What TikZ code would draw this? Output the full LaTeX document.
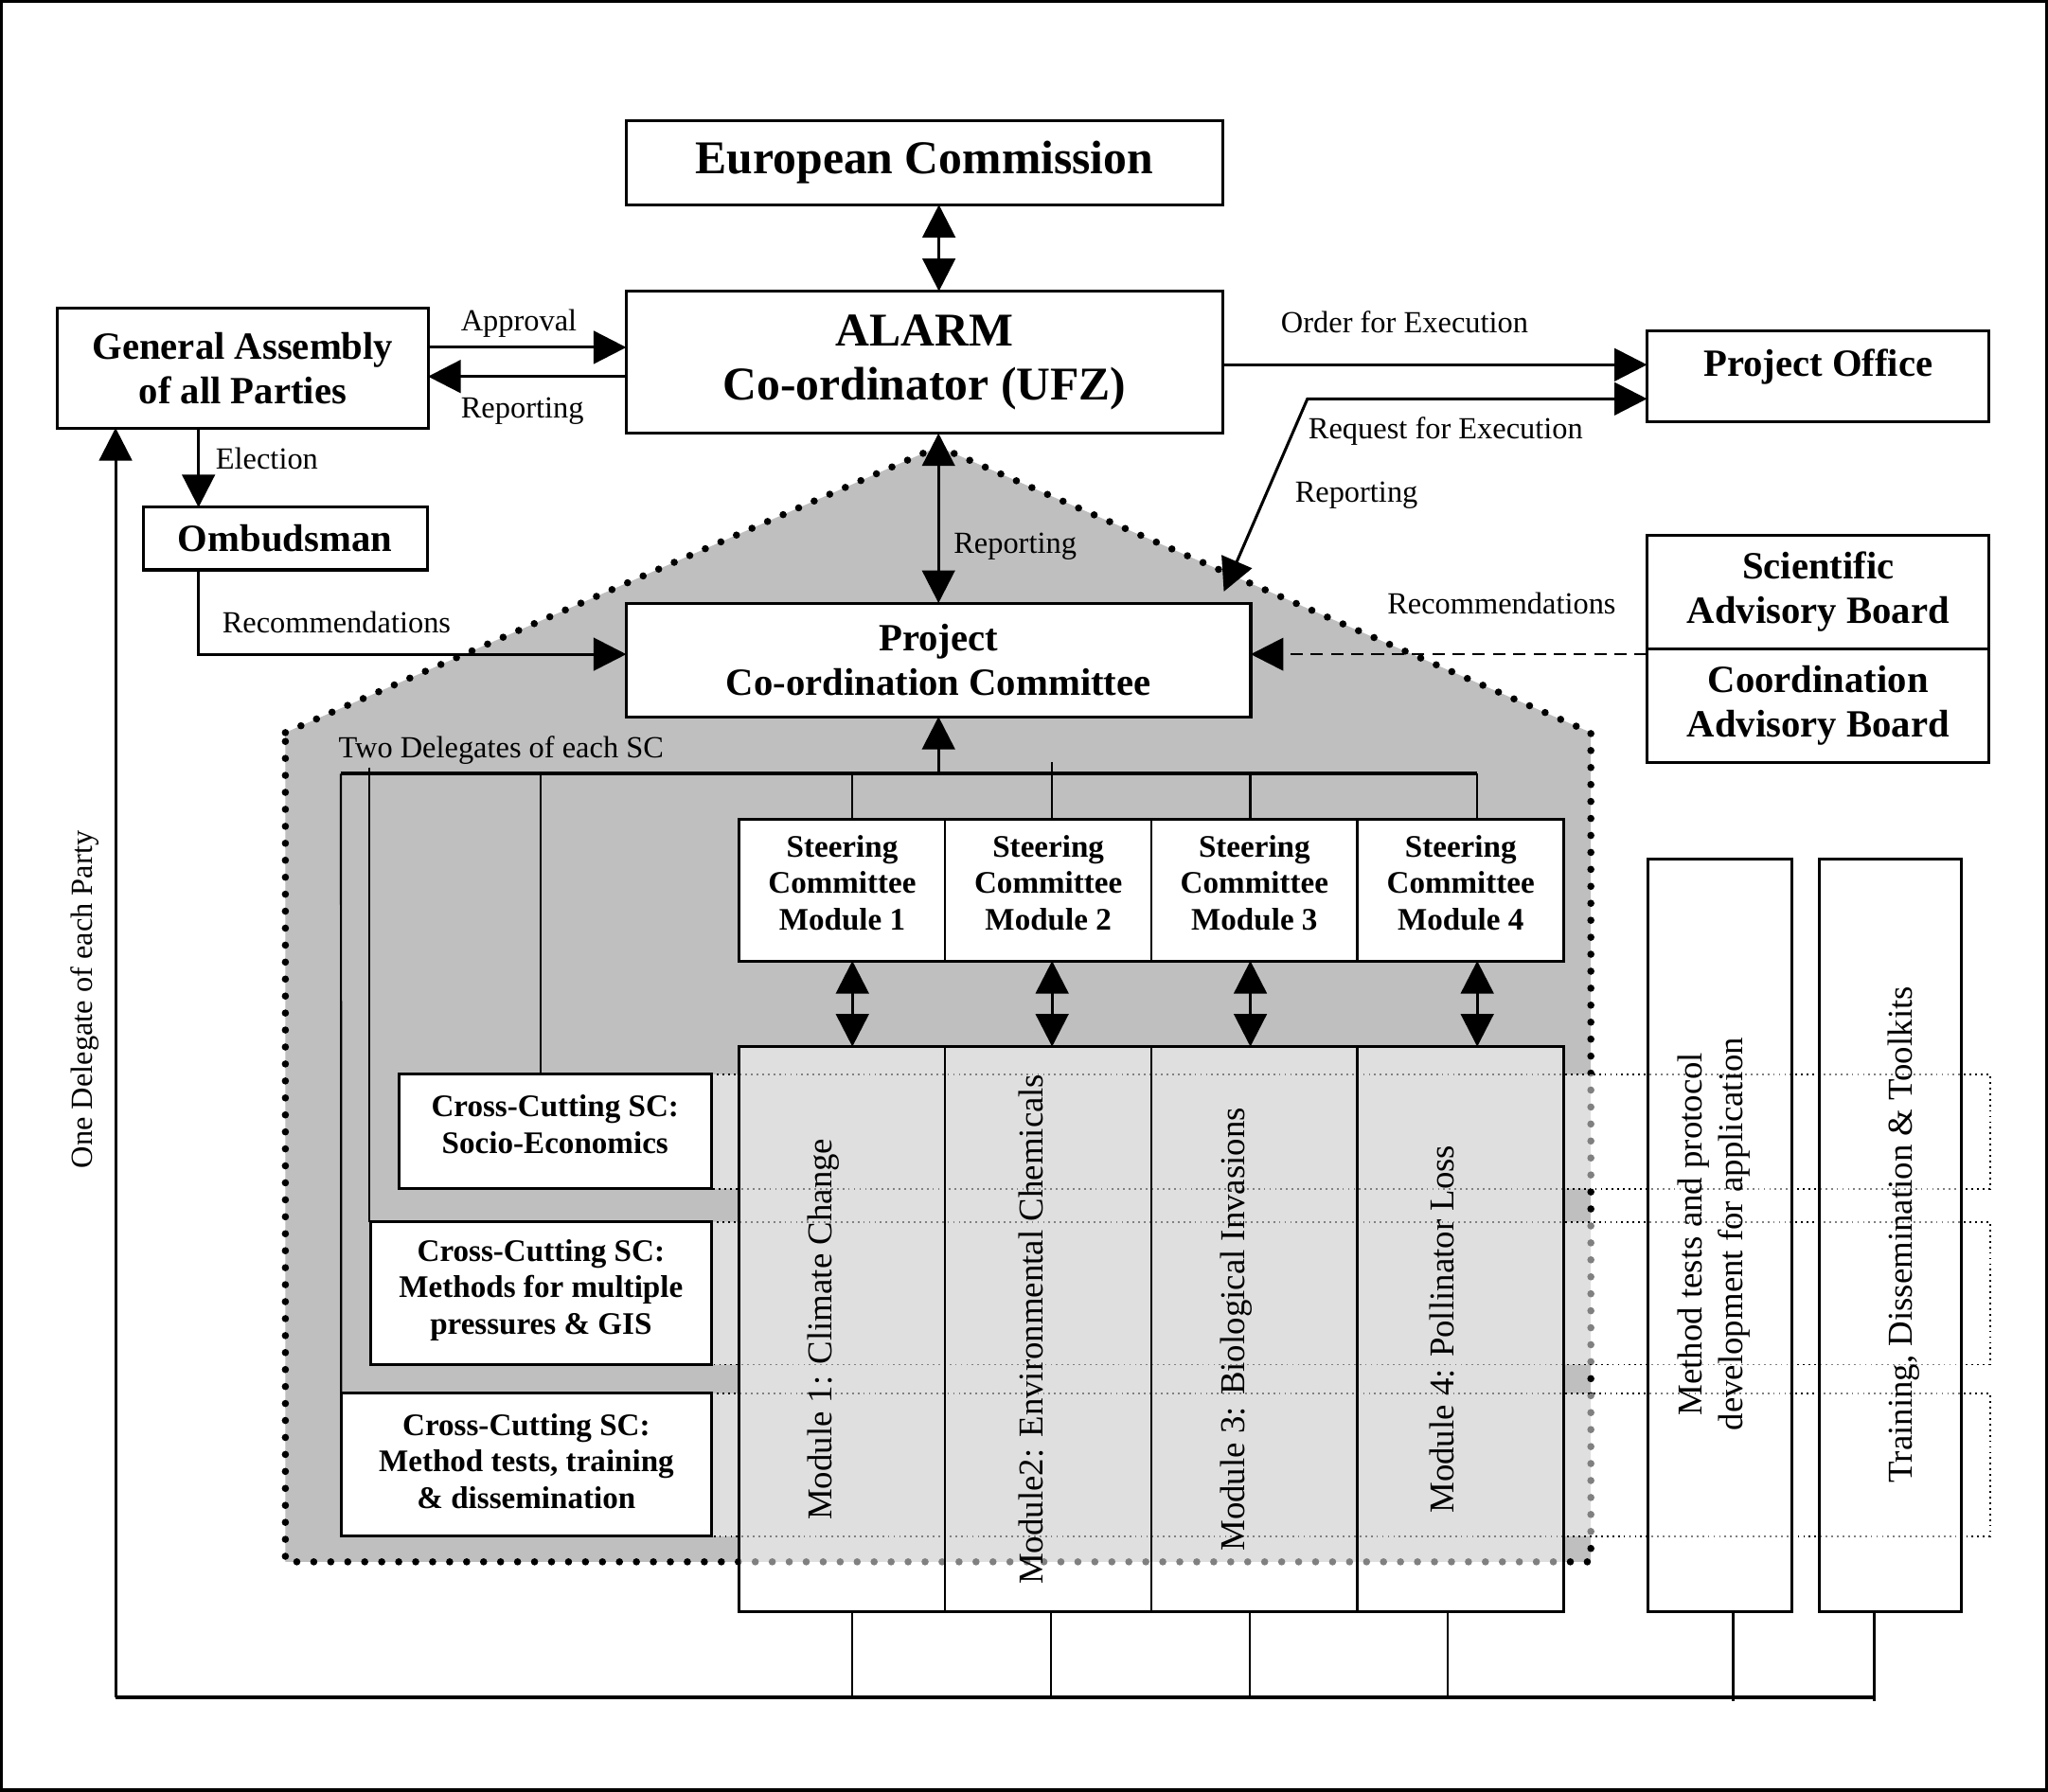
\documentclass[tikz,border=0pt]{standalone}
\usepackage{fontspec}
\setmainfont{Liberation Serif}
\usetikzlibrary{arrows.meta}
\newcommand\fEC{\fontsize{36}{42}\selectfont\bfseries}
\newcommand\fAL{\fontsize{36}{41}\selectfont\bfseries}
\newcommand\fBB{\fontsize{29.5}{34}\selectfont\bfseries}
\newcommand\fMB{\fontsize{24}{27.7}\selectfont\bfseries}
\newcommand\fLB{\fontsize{23.5}{27}\selectfont}
\newcommand\fRT{\fontsize{26.7}{31}\selectfont}
\definecolor{pent}{gray}{0.75}
\begin{document}
\begin{tikzpicture}[x=1pt,y=-1pt,
  box/.style={draw, line width=2.2pt, fill=white, inner sep=0pt, outer sep=0pt, align=center},
  cell/.style={draw, line width=1.6pt, inner sep=0pt, outer sep=0pt},
  conn/.style={line width=2.2pt},
  thinln/.style={line width=1.6pt},
  busln/.style={line width=2.8pt},
  arrhead/.style={-{Triangle[length=25pt,width=25pt]}},
  dblhead/.style={{Triangle[length=25pt,width=25pt]}-{Triangle[length=25pt,width=25pt]}},
  lbl/.style={font=\fLB, inner sep=0pt, anchor=base west},
  rowdot/.style={line width=1.3pt, dash pattern=on 1.3pt off 3pt},
  pentdot/.style={line width=5.5pt, dash pattern=on 0pt off 13pt, line cap=round},
  txt/.style={inner sep=0pt, align=center},
]
\useasboundingbox (0,0) rectangle (1568,1372);
\draw[line width=2.4pt] (1.2,1.2) rectangle (1566.8,1370.8);

% grey pentagon
\draw[pentdot, fill=pent] (218.5,561) -- (718.5,342) -- (1218,561) -- (1218,1196) -- (218.5,1196) -- cycle;
% lighter bands beside the modules
\fill[white, fill opacity=0.5] (544.8,822.6) rectangle (566,910.3) (1197.5,822.6) rectangle (1221.5,910.3)
  (544.8,935.6) rectangle (566,1045) (1197.5,935.6) rectangle (1221.5,1045)
  (544.8,1067) rectangle (566,1176.5) (1197.5,1067) rectangle (1221.5,1176.5);

% boxes
\node[box, font=\fEC, minimum width=456.7pt, minimum height=64.2pt] (ec) at (707.85,124.7) {European Commission};
\node[box, font=\fAL, minimum width=456.7pt, minimum height=108.8pt] (alarm) at (707.85,277.4) {ALARM\\Co-ordinator (UFZ)};
\node[box, font=\fBB, minimum width=283.7pt, minimum height=91.9pt] (ga) at (185.85,281.75) {General Assembly\\of all Parties};
\node[box, font=\fBB, minimum width=217.5pt, minimum height=47.9pt] (omb) at (218.25,412.45) {Ombudsman};
\node[box, minimum width=262pt, minimum height=69.6pt] (po) at (1392,288) {};
\node[font=\fBB, inner sep=0pt, anchor=base] (pot) at (1392,287.8) {Project Office};
\node[box, font=\fBB, minimum width=262pt, minimum height=87pt] (sab) at (1392,453.3) {Scientific\\Advisory Board};
\node[box, font=\fBB, minimum width=262pt, minimum height=87pt] (cab) at (1392,540.3) {Coordination\\Advisory Board};
\node[box, font=\fBB, minimum width=478.1pt, minimum height=87pt] (pcc) at (718.55,505.3) {Project\\Co-ordination Committee};

% cross-cutting boxes
\node[box, minimum width=239.5pt, minimum height=87.7pt] (cc1) at (425.05,866.45) {};
\node[box, minimum width=261.2pt, minimum height=109.4pt] (cc2) at (414.2,990.3) {};
\node[box, minimum width=283.6pt, minimum height=109.5pt] (cc3) at (403,1121.75) {};

% row bands (dotted)
\coordinate (rowR) at (1523.5,0);
\foreach \c in {cc1,cc2,cc3}{
  \draw[rowdot] (\c.north east) -- (\c.north east -| rowR) -- (\c.south east -| rowR) -- (\c.south east);
}

% steering committee cells
\node[cell, fill=white, minimum width=157.6pt, minimum height=108.3pt] (sc1) at (644.8,681.65) {};
\node[cell, fill=white, minimum width=158pt, minimum height=108.3pt] (sc2) at (802.6,681.65) {};
\node[cell, fill=white, minimum width=157.6pt, minimum height=108.3pt] (sc3) at (960.4,681.65) {};
\node[cell, fill=white, minimum width=158.3pt, minimum height=108.3pt] (sc4) at (1118.35,681.65) {};
\draw[line width=2.2pt] (sc1.north west) rectangle (sc4.south east);
\node[txt, font=\fMB] (sc1t) at (644.8,676) {Steering\\Committee\\Module 1};
\node[txt, font=\fMB] (sc2t) at (802.6,676) {Steering\\Committee\\Module 2};
\node[txt, font=\fMB] (sc3t) at (960.4,676) {Steering\\Committee\\Module 3};
\node[txt, font=\fMB] (sc4t) at (1118.35,676) {Steering\\Committee\\Module 4};

% module cells
\node[cell, fill=white, fill opacity=0.5, minimum width=157.6pt, minimum height=432.5pt] (m1) at (644.8,1017.75) {};
\node[cell, fill=white, fill opacity=0.5, minimum width=158pt, minimum height=432.5pt] (m2) at (802.6,1017.75) {};
\node[cell, fill=white, fill opacity=0.5, minimum width=157.6pt, minimum height=432.5pt] (m3) at (960.4,1017.75) {};
\node[cell, fill=white, fill opacity=0.5, minimum width=158.3pt, minimum height=432.5pt] (m4) at (1118.35,1017.75) {};
\draw[line width=2.2pt] (m1.north west) rectangle (m4.south east);
\node[txt, font=\fRT, rotate=90] (m1t) at (630.8,1018) {Module 1: Climate Change};
\node[txt, font=\fRT, rotate=90] (m2t) at (789.6,1018) {Module2: Environmental Chemicals};
\node[txt, font=\fRT, rotate=90] (m3t) at (946.4,1018) {Module 3: Biological Invasions};
\node[txt, font=\fRT, rotate=90] (m4t) at (1104.35,1018) {Module 4: Pollinator Loss};

% right vertical boxes
\node[box, fill opacity=0.5, minimum width=109.6pt, minimum height=576.8pt] (mt) at (1316.8,946.1) {};
\node[box, fill opacity=0.5, minimum width=109.1pt, minimum height=576.8pt] (tr) at (1447.25,946.1) {};
\node[txt, font=\fRT, rotate=90] (mtt) at (1312.4,945) {Method tests and protocol\\development for application};
\node[txt, font=\fRT, rotate=90] (trt) at (1457.8,945.5) {Training, Dissemination \& Toolkits};

% cross-cutting texts
\node[txt, font=\fMB] (cc1t) at (425,861) {Cross-Cutting SC:\\Socio-Economics};
\node[txt, font=\fMB] (cc2t) at (414.2,988) {Cross-Cutting SC:\\Methods for multiple\\pressures \& GIS};
\node[txt, font=\fMB] (cc3t) at (403,1119) {Cross-Cutting SC:\\Method tests, training\\\& dissemination};

% connectors top
\draw[conn, dblhead] ([xshift=11pt]ec.south) -- ([xshift=11pt]alarm.north);
\draw[conn, arrhead] ([yshift=15.75pt]ga.east) -- ([yshift=15.75pt]ga.east -| alarm.west);
\draw[conn, arrhead] ([yshift=-6.55pt]ga.east -| alarm.west) -- ([yshift=-6.55pt]ga.east);
\draw[conn, arrhead] ([xshift=-33.85pt]ga.south) -- ([xshift=-33.85pt]ga.south |- omb.north);
\draw[conn, arrhead] ([xshift=-33.85pt]ga.south |- omb.south) |- ([yshift=4.3pt]pcc.west);
\draw[conn, arrhead] ([yshift=-1.9pt]alarm.east) -- ([yshift=-1.9pt]alarm.east -| po.west);
\coordinate (reqc) at (1001,305.4);
\draw[conn, dblhead] ([xshift=-20.6pt,yshift=8.8pt]pcc.north east) -- (reqc) -- ([yshift=-17.4pt]po.west);
\draw[line width=2pt, dash pattern=on 9.5pt off 6pt, arrhead] ([yshift=39.3pt]cab.west) -- ([yshift=39.3pt]cab.west -| pcc.east);
\draw[conn, dblhead] (pcc.north) -- (pcc.north |- alarm.south);

% delegate bus
\coordinate (busL) at (261,592.5);
\coordinate (busR) at (1131,592.5);
\coordinate (c1) at (652.6,592.5);
\coordinate (c2) at (805.5,592.5);
\coordinate (c3) at (957.3,592.5);
\coordinate (c4) at (1131,592.5);
\coordinate (k2) at (283,592.5);
\coordinate (k3) at (413.7,592.5);
\draw[busln] (busL) -- (busR);
\draw[conn, arrhead] (pcc.south |- busL) -- (pcc.south);
\draw[thinln] (busL) -- (cc3.north west);
\draw[thinln] ([yshift=4.8pt]k2) -- (k2 |- cc2.north);
\draw[thinln] (k3) -- (k3 |- cc1.north);
\draw[thinln] (c1) -- (c1 |- sc1.north);
\draw[thinln] ([yshift=9pt]c2) -- (c2 |- sc2.north);
\draw[thinln] (c3) -- (c3 |- sc3.north);
\draw[thinln] (c4) -- (c4 |- sc4.north);
\draw[conn, dblhead] (c1 |- sc1.south) -- (c1 |- m1.north);
\draw[conn, dblhead] (c2 |- sc2.south) -- (c2 |- m2.north);
\draw[conn, dblhead] (c3 |- sc3.south) -- (c3 |- m3.north);
\draw[conn, dblhead] (c4 |- sc4.south) -- (c4 |- m4.north);

% bottom bus
\coordinate (botL) at (88.5,1300);
\coordinate (b1) at (652.6,1300);
\coordinate (b2) at (804.8,1300);
\coordinate (b3) at (956.7,1300);
\coordinate (b4) at (1108.6,1300);
\coordinate (b5) at (1327,1303);
\coordinate (b6) at (1435,1303);
\draw[line width=3pt] (botL) -- (b6 |- botL);
\draw[conn, arrhead] (botL) -- (botL |- ga.south);
\draw[thinln] (b1 |- m1.south) -- (b1);
\draw[thinln] (b2 |- m2.south) -- (b2);
\draw[thinln] (b3 |- m3.south) -- (b3);
\draw[thinln] (b4 |- m4.south) -- (b4);
\draw[thinln] (b5 |- mt.south) -- (b5);
\draw[thinln] (b6 |- tr.south) -- (b6);

% labels
\node[lbl] (lapp) at (352.7,253.7) {Approval};
\node[lbl] (lrep1) at (352.7,320.4) {Reporting};
\node[lbl] (lele) at (165,359) {Election};
\node[lbl] (lrec1) at (170,484.7) {Recommendations};
\node[lbl] (lord) at (980.6,255) {Order for Execution};
\node[lbl] (lreq) at (1001.6,336) {Request for Execution};
\node[lbl] (lrep2) at (991.3,384.4) {Reporting};
\node[lbl] (lrec2) at (1062,470.2) {Recommendations};
\node[lbl] (lrep3) at (730,424) {Reporting};
\node[lbl] (ltwo) at (259,580.4) {Two Delegates of each SC};
\node[txt, font=\fLB, rotate=90] (lone) at (65,765.5) {One Delegate of each Party};
\end{tikzpicture}
\end{document}
